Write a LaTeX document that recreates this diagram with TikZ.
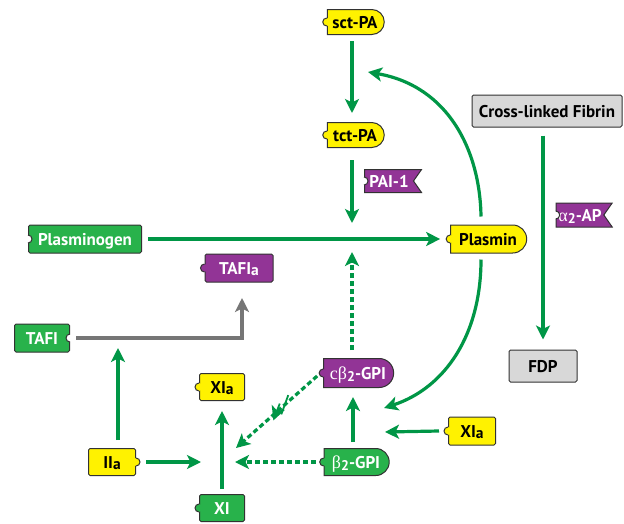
\documentclass[tikz,border=0pt]{standalone}
\usepackage{fontspec}
\setmainfont{PT Sans}
\newfontfamily\grk{Liberation Serif}
\usetikzlibrary{arrows.meta,shapes.misc,shapes.symbols,decorations.markings}
\definecolor{agreen}{RGB}{0,150,70}
\definecolor{ngreen}{RGB}{40,178,75}
\definecolor{nyellow}{RGB}{255,242,0}
\definecolor{npurple}{RGB}{146,52,150}
\definecolor{ngray}{RGB}{216,216,216}
\definecolor{lgray}{RGB}{118,118,118}
\definecolor{bord}{RGB}{50,50,50}
\newcommand{\bumpL}[2]{\fill[#2] (#1.west) circle (4pt);
  \draw[bord,line width=1pt] ([yshift=4pt]#1.west) arc(90:270:4pt);}
\newcommand{\bumpR}[2]{\fill[#2] (#1.east) circle (4pt);
  \draw[bord,line width=1pt] ([yshift=4pt]#1.east) arc(90:-90:4pt);}
\newcommand{\notchL}[1]{\fill[white] (#1.west) circle (4pt);
  \draw[bord,line width=1pt] ([yshift=4pt]#1.west) arc(90:-90:4pt);}
\newcommand{\notchR}[1]{\fill[white] (#1.east) circle (4pt);
  \draw[bord,line width=1pt] ([yshift=4pt]#1.east) arc(90:270:4pt);}
\newcommand{\sub}[1]{\raisebox{-2.5pt}{\fontsize{14}{14}\selectfont #1}}
\newcommand{\suba}{\raisebox{-1.5pt}{\fontsize{15.5}{15}\selectfont a}}
\newcommand{\gk}[1]{{\grk\mdseries\fontsize{18}{18}\selectfont #1}}
\begin{document}
\begin{tikzpicture}[x=1pt,y=1pt,
  base/.style={font=\bfseries\fontsize{17}{18}\selectfont, draw=bord, line width=1pt,
    inner sep=0pt, text height=12pt, text depth=0pt},
  sz/.style 2 args={minimum width=#1, minimum height=#2},
  rect/.style={rectangle, rounded corners=1.5pt},
  rr/.style={rounded rectangle, rounded rectangle left arc=none},
  flag/.style={signal, signal to=nowhere, signal from=east, signal pointer angle=110},
  yel/.style={base, fill=nyellow, text=black},
  grn/.style={base, fill=ngreen, text=white},
  pur/.style={base, fill=npurple, text=white},
  gry/.style={base, fill=ngray, text=black},
  arr/.style={draw=agreen, line width=3.2pt, -{Stealth[length=14pt,width=14pt,inset=3.5pt]}},
  dotarr/.style={arr, dash pattern=on 5pt off 3pt},
  grayarr/.style={arr, draw=lgray}
]
\useasboundingbox (0,0) rectangle (624,-523);
% nodes
\node[yel,rr,sz={57pt}{25pt}] (sct) at (355,-22) {sct-PA}; \bumpL{sct}{nyellow}
\node[yel,rr,sz={57pt}{25pt}] (tct) at (355,-135) {tct-PA}; \bumpL{tct}{nyellow}
\node[pur,flag,sz={57pt}{23pt}] (pai) at (389,-181) {PAI-1}; \notchL{pai}
\node[grn,rect,sz={113pt}{28pt}] (plg) at (85,-239) {Plasminogen}; \notchL{plg}
\node[pur,rect,sz={68pt}{28pt}] (tafia) at (239,-268) {TAFI\suba}; \bumpL{tafia}{npurple}
\node[yel,rr,sz={76pt}{28pt}] (plm) at (488,-239) {Plasmin}; \bumpL{plm}{nyellow}
\node[gry,rect,sz={150pt}{32pt}] (fib) at (547,-111) {Cross-linked Fibrin};
\node[pur,flag,sz={56pt}{24pt}] (a2ap) at (580,-215) {\gk{α}\sub{2}-AP}; \notchL{a2ap}
\node[gry,rect,sz={68pt}{32pt}] (fdp) at (543,-366) {FDP};
\node[grn,rect,sz={55pt}{28pt}] (tafi) at (42,-338) {TAFI}; \notchR{tafi}
\node[yel,rect,sz={47pt}{27pt}] (iia) at (112,-462) {II\suba}; \bumpR{iia}{nyellow}
\node[yel,rect,sz={45pt}{27pt}] (xial) at (222,-387) {XI\suba}; \bumpL{xial}{nyellow}
\node[grn,rect,sz={45pt}{27pt}] (xi) at (222,-508) {XI}; \bumpL{xi}{ngreen}
\node[pur,rr,sz={70pt}{29pt}] (cb2) at (358,-373) {\gk{cβ}\sub{2}-GPI}; \bumpL{cb2}{npurple}
\node[grn,rr,sz={65pt}{27pt}] (b2) at (356,-462) {\gk{β}\sub{2}-GPI}; \bumpL{b2}{ngreen}
\node[yel,rect,sz={47pt}{28pt}] (xiar) at (472,-431) {XI\suba}; \bumpL{xiar}{nyellow}
% coordinates
\coordinate (mid) at (352,-239);
\coordinate (c1) at (368,-72);
\coordinate (c2) at (384,-408);
\coordinate (c3) at (118,-348);
\coordinate (c4) at (201,-462);
\coordinate (c5) at (385,-432);
\coordinate (c6) at (235,-462);
\coordinate (c7) at (236,-448);
\coordinate (c8) at (242,-298);
% connectors
\draw[arr] ([xshift=-3pt,yshift=-6pt]sct.south) -- ([xshift=-3pt,yshift=9pt]tct.north);
\draw[arr] ([xshift=-3pt,yshift=-12pt]tct.south) -- ([yshift=16pt]mid);
\draw[arr] ([xshift=6pt]plg.east) -- ([xshift=-10pt]plm.west);
\draw[arr] ([xshift=-7pt,yshift=8pt]plm.north) .. controls (480,-150) and (448,-86) .. (c1);
\draw[arr] ([xshift=-7pt,yshift=-6pt]plm.south) .. controls (481,-335) and (445,-388) .. (c2);
\draw[arr] ([xshift=-4pt,yshift=-8pt]fib.south) -- ([yshift=10pt]fdp.north);
\draw[grayarr] ([xshift=6pt]tafi.east) -| (c8);
\draw[arr] ([xshift=6pt,yshift=8pt]iia.north) -- (c3);
\draw[arr] ([xshift=10pt]iia.east) -- (c4);
\draw[arr] ([yshift=5pt]xi.north) -- ([yshift=-10pt]xial.south);
\draw[arr] ([xshift=-3pt,yshift=6pt]b2.north) -- ([xshift=-5pt,yshift=-9pt]cb2.south);
\draw[arr] ([xshift=-9pt]xiar.west) -- (c5);
\draw[dotarr] ([xshift=-8pt]b2.west) -- (c6);
\draw[dotarr, postaction={decorate, decoration={markings, mark=at position 0.45 with {
   \draw[agreen, solid, line width=1.8pt] (-14.5pt,-4.9pt) -- (3.5pt,4.9pt) (-2.5pt,-4.2pt) -- (13.5pt,4.2pt);}}}]
   ([xshift=-6pt,yshift=-3pt]cb2.west) -- (c7);
\draw[dotarr] ([xshift=-6pt,yshift=8pt]cb2.north) -- ([yshift=-13pt]mid);
\end{tikzpicture}
\end{document}
